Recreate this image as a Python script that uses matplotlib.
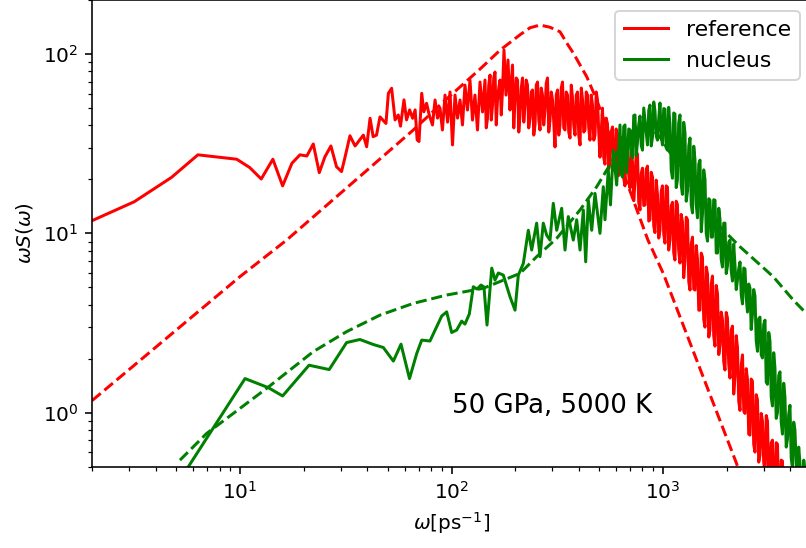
import matplotlib
matplotlib.use('Agg')
import matplotlib.pyplot as plt

# reference (solid, red)
ref_w = [1.58, 3.16, 4.74, 6.32, 9.65, 11.1, 12.6, 14.3, 15.9, 17.6, 19.2, 20.7, 22.2, 23.7,
         25.2, 26.9, 28.6, 30.2, 31.4, 33.1, 35.0, 38.3, 39.7, 41.2, 42.6, 44.2, 45.9, 49.0,
         50.3, 52.1, 54.1, 56.0, 57.4, 59.6, 61.3, 63.4, 65.5, 67.3, 68.8, 70.2, 72.3, 74.0,
         76.2, 78.5,
         81.3, 83.6, 85.9, 88.2, 90.6, 93.2, 95.8, 98.4, 101.1, 103.9, 106.8, 109.7, 112.7,
         115.8, 119.0, 122.3, 125.7, 129.1, 132.7, 136.4, 140.2,
         144.0, 146.0, 148.0, 150.0, 152.1, 154.2, 156.3, 158.4, 160.6, 162.8, 165.0, 167.3,
         169.6, 171.9, 174.3, 177.1, 181.0, 185.0, 189.1, 191.7, 194.3, 197.0, 199.7, 202.4,
         205.2, 208.0, 210.9, 213.8, 216.7, 219.7, 222.6, 225.6, 228.7, 231.8, 235.1, 238.3,
         241.6, 244.9, 248.3, 251.7, 255.2, 258.7, 262.1, 265.7, 269.3, 273.0, 276.8, 280.6,
         284.4, 288.3, 292.3, 296.3, 300.4, 304.5, 308.7, 312.9, 317.2, 321.5, 325.9, 330.4,
         334.9, 339.5, 344.1, 348.8, 353.6, 358.4, 363.4, 368.4, 373.4, 378.5, 383.7, 388.9,
         394.3, 399.7, 405.3, 410.9, 416.5, 422.2, 427.8, 433.7, 439.6, 445.6, 451.7, 457.9,
         464.2, 470.6, 477.1, 483.6, 490.2, 496.9, 503.6,
         517.5, 524.6, 531.8, 539.1, 546.5, 554.0, 561.6, 569.3, 577.1, 585.0, 592.9, 601.0,
         609.3, 617.6, 626.1, 634.7, 643.4, 652.2, 661.1, 670.2, 679.4, 688.7, 698.2, 707.8,
         717.5, 727.3, 737.2, 747.3, 757.5, 767.9, 778.5, 789.2, 800.0, 811.0, 822.1, 833.4,
         844.8, 856.4, 868.0, 879.9, 892.0, 904.2, 916.6, 929.2, 941.9, 954.8, 967.8, 981.1,
         994.5, 1008, 1022, 1036, 1050, 1064, 1079, 1094, 1109, 1124, 1139, 1155, 1170, 1186,
         1203, 1219, 1236, 1253, 1271, 1288, 1306, 1324, 1342, 1360, 1379, 1398, 1417, 1436,
         1456, 1476, 1496, 1517, 1537, 1558, 1580, 1602, 1624, 1646, 1668, 1691, 1714, 1737,
         1762, 1786, 1811, 1836, 1860, 1885, 1911, 1937, 1964, 1991, 2018, 2046, 2074, 2102,
         2131, 2160, 2190, 2220, 2250, 2281, 2313, 2345, 2377, 2410, 2442, 2475, 2509, 2543,
         2578, 2613, 2649, 2685, 2723, 2760, 2798, 2836, 2875, 2914, 2954, 2994, 3036, 3078,
         3120, 3163, 3206, 3250, 3294, 3339, 3385, 3431, 3478, 3526, 3574, 3623, 3673, 3723,
         3774, 3826, 3878, 3985]
ref_s = [10.4, 15.0, 20.5, 27.4, 25.9, 23.3, 20.1, 25.9, 18.4, 24.6, 27.4, 27.0, 31.5, 21.8,
         26.7, 30.7, 23.5, 22.1, 26.7, 35.0, 30.7, 35.3, 30.4, 43.8, 34.6, 35.3, 44.6, 41.0,
         60.4, 64.4, 42.9, 45.7, 39.6, 55.5, 42.9, 48.8, 43.8, 48.8, 33.2, 32.5, 60.4, 47.6,
         53.1, 45.7,
         40.2, 55.4, 43.9, 50.0, 37.7, 59.0, 41.7, 61.4, 31.1, 59.0, 43.9, 55.4, 40.2,
         67.1, 48.7, 71.6, 42.8, 59.0, 37.7, 69.8, 47.5,
         71.6, 38.7, 43.9, 67.1, 76.3, 42.8, 51.9, 73.5, 79.3, 40.2, 55.4, 64.6,
         71.6, 45.7, 63.0, 105.3, 59.0, 92.6, 48.7, 68.8, 86.8, 38.7, 55.4, 73.5,
         71.6, 36.7, 45.7, 64.6, 73.5, 41.7, 51.9, 71.6, 67.1, 38.7, 43.9, 61.4,
         63.0, 35.3, 40.2, 67.1, 69.8, 42.8, 37.7, 64.6, 59.0, 40.2, 48.7, 68.8,
         73.5, 36.7, 42.8, 61.4, 55.4, 41.7, 30.3, 59.0, 63.0, 35.3, 40.2, 64.6,
         69.8, 38.7, 37.7, 61.4, 59.0, 36.7, 34.0, 67.1, 56.8, 40.2, 35.3, 59.0,
         61.4, 35.3, 31.1, 64.6, 55.4, 36.7, 37.7, 61.4, 59.0, 38.7, 33.1, 59.0,
         51.9, 33.1, 35.3, 61.4, 55.4, 36.7, 26.6,
         49.9, 26.4, 24.3, 43.9, 40.7, 22.9, 25.6, 36.7, 39.2, 25.1, 22.2, 38.2,
         31.8, 21.0, 24.0, 29.1, 34.4, 20.3, 18.4, 31.8, 29.9, 21.1, 17.9, 28.4,
         25.0, 15.2, 19.3, 28.7, 27.6, 14.9, 13.5, 21.6, 23.1, 14.3, 14.4, 22.8,
         23.7, 11.7, 11.9, 21.9, 20.6, 11.0, 10.1, 19.8, 16.4, 9.41, 10.4, 17.2,
         18.4, 9.94, 8.82, 18.4, 18.1, 8.07, 9.17, 14.2, 14.9, 7.81, 7.10, 15.1, 14.5, 8.07,
         6.83, 12.75, 11.6, 5.66, 7.10, 12.3, 11.9, 5.38, 4.83, 8.71, 9.53, 4.89, 4.83, 8.55,
         7.19, 3.73, 3.73, 7.76, 7.38, 3.32, 3.00, 6.49, 5.93, 2.64, 2.89, 5.20, 5.78, 2.69,
         2.35, 5.12, 4.59, 2.11, 2.38, 3.64, 3.32, 1.93, 1.73, 3.62, 3.37, 1.86, 1.56, 2.89,
         3.04, 1.27, 1.58, 2.69, 2.32, 1.16, 1.03, 1.85, 2.10, 1.02, 0.991, 1.76, 1.54, 0.76,
         0.750, 1.54, 1.50, 0.668, 0.603, 1.26, 1.18, 0.53, 0.580, 0.99, 0.898, 0.53, 0.461, 0.964,
         0.898, 0.41, 0.449, 0.68, 0.703, 0.37, 0.334, 0.68, 0.668, 0.33, 0.314, 0.544, 0.537, 0.25,
         0.25, 0.30, 0.45, 0.22]

# reference model (dashed, red)
ref_fit_w = [2.0, 10.0, 16.6, 66.0, 91.4, 136.4, 169.6, 210.9, 235, 262.0, 292, 325.9, 351,
             377, 436, 486, 849, 1003, 2228, 2442]
ref_fit_s = [1.17, 5.74, 9.17, 37.7, 54.0, 82.4, 105, 128, 140, 145, 141, 133, 115,
             101, 74.7, 55.4, 9.17, 5.98, 0.521, 0.37]

# nucleus (solid, green)
nuc_w = [4.67, 10.56, 13.6, 15.9, 21.2, 26.4, 31.9, 36.9, 42.7, 47.6, 53.1, 57.7, 63.3, 68.5,
         72.3, 79.1, 89.9, 94.9, 100.2, 105.8, 111.7, 115.8, 121.4, 126.8, 132.0, 137.9, 142.4,
         147.2, 155.0, 160.6, 166.5, 175.8, 189.1, 199.7, 207.0, 218.6, 230.8, 239.4, 252.7,
         262.1, 271.6, 281.8, 292.3, 302.9, 314.4, 331.9, 344.1, 356.6, 376.6, 390.8, 405.3,
         420.1, 431.1, 443.5, 460.2, 477.1, 503.6, 522.1, 531.8, 551.3, 564.6, 582.1, 604.0,
         626.1, 634.7, 643.4, 652.2, 661.1, 670.2, 679.4, 688.7, 698.2, 707.8, 717.5, 727.3,
         737.2, 747.3, 757.5, 767.9, 778.5, 789.2, 800.0, 811.0, 822.1, 833.4, 844.8, 856.4,
         868.0, 879.9, 892.0, 904.2, 916.6, 929.2, 941.9, 954.8, 967.8, 981.1, 994.5, 1008,
         1022, 1036, 1050, 1064, 1079, 1094, 1109, 1124, 1139, 1155, 1170, 1186, 1203, 1219,
         1236, 1253, 1271, 1288, 1306, 1324, 1342, 1360, 1379, 1398, 1417, 1436, 1456, 1476,
         1496, 1517, 1537, 1558, 1580, 1602, 1624, 1646, 1668, 1691, 1714, 1737, 1762, 1786,
         1811, 1836, 1860, 1885, 1911, 1937, 1964, 1991, 2018, 2046, 2074, 2102, 2131, 2160,
         2190, 2220, 2250, 2281, 2313, 2345, 2377, 2410, 2442, 2475, 2509, 2543, 2578, 2613,
         2649, 2685, 2723, 2760, 2798, 2836, 2875, 2914, 2954, 2994, 3036, 3078, 3120, 3163,
         3206, 3250, 3294, 3339, 3385, 3431, 3478, 3526, 3574, 3623, 3673, 3723, 3774, 3826,
         3878, 3930, 3985, 4040, 4095, 4151, 4208, 4266, 4324, 4383, 4444, 4505, 4567, 4630,
         4692]
nuc_s = [0.347, 1.55, 1.38, 1.24, 1.84, 1.74, 2.46, 2.56, 2.40, 2.31, 1.94, 2.41, 1.55, 2.14,
         2.54, 2.51, 3.46, 3.65, 2.80, 2.89, 3.24, 3.12, 3.55, 5.04, 4.89, 5.15, 5.02,
         3.08, 6.40, 5.49, 6.01, 5.85, 4.43, 3.73, 5.85, 6.80, 10.4, 8.07, 11.4,
         7.41, 11.4, 9.78, 9.17, 14.7, 10.4, 13.8, 8.07, 12.4, 9.17, 11.9, 8.07,
         13.5, 6.94, 15.3, 10.4, 16.7, 10.0, 18.2, 11.9, 22.5, 14.4, 29.1, 18.6,
         40.2, 21.5, 20.6, 39.4, 40.2, 21.8, 25.6, 38.2, 37.7, 28.6, 26.3, 45.4,
         45.7, 27.1, 32.3, 40.2, 45.1, 30.9, 29.1, 50.0, 42.8, 36.3, 31.1, 48.4,
         51.9, 30.7, 34.4, 54.0, 48.1, 34.9, 33.1, 43.6, 53.3, 35.3, 31.1, 49.6,
         49.3, 29.9, 29.1, 50.4, 40.7, 22.5, 20.3, 46.9, 46.3, 18.0, 19.8, 41.0, 45.7, 18.7,
         16.5, 41.6, 36.3, 15.1, 17.2, 30.6, 34.0, 14.5, 13.0, 30.6, 25.6, 14.5, 12.2, 24.3,
         25.6, 10.2, 12.8, 22.6, 20.0, 9.97, 9.05, 15.6, 15.3, 9.53, 9.53, 15.4, 15.3, 7.77,
         7.77, 13.8, 12.0, 7.15, 6.49, 11.4, 11.4, 5.97, 6.58, 8.94, 9.17, 6.20, 5.42, 8.71,
         6.66, 4.86, 5.49, 6.33, 6.92, 4.53, 4.04, 6.41, 6.33, 4.39, 3.64, 5.22, 4.96, 2.91,
         3.54, 4.86, 4.47, 2.52, 2.20, 3.34, 3.41, 2.10, 2.02, 3.10, 3.28, 1.48, 1.44, 2.80,
         2.51, 1.22, 1.09, 2.16, 1.77, 0.93, 1.00, 1.61, 1.69, 0.886, 0.760, 1.46, 1.22, 0.643,
         0.712, 0.976, 1.10, 0.558, 0.491, 0.886, 0.800, 0.513, 0.421, 0.643, 0.523, 0.33, 0.405, 0.544,
         0.484]

# nucleus model (dashed, green)
nuc_fit_w = [5.20, 6.96, 13.4, 22.2, 31.9, 45.9, 66.0, 94.9, 141.4, 210.9, 252.7, 314.4,
             405.3, 486, 541.9, 673.4, 753.7, 849, 967.8, 1203, 1496, 1860, 2313, 3323, 4131, 4744]
nuc_fit_s = [0.544, 0.767, 1.37, 2.19, 2.83, 3.50, 4.07, 4.53, 4.94, 5.98, 7.41, 9.38,
             13.5, 18.2, 22.5, 34.6, 39.2, 40.2, 34.4, 23.1, 15.5, 10.9, 8.42, 5.73, 4.25, 3.59]

fig = plt.figure(figsize=(806 / 144, 548 / 144), dpi=144)
ax = fig.add_axes([92.2 / 806, 81.3 / 548, 718.6 / 806, 466.7 / 548])

ax.loglog(ref_w, ref_s, color='red', lw=1.5, label='reference')
ax.loglog(ref_fit_w, ref_fit_s, '--', color='red', lw=1.5)
ax.loglog(nuc_w, nuc_s, color='green', lw=1.5, label='nucleus')
ax.loglog(nuc_fit_w, nuc_fit_s, '--', color='green', lw=1.5)

ax.set_xlim(2, 5000)
ax.set_ylim(0.5, 200)
ax.set_xlabel(r'$\omega$[ps$^{-1}$]')
ax.set_ylabel(r'$\omega S(\omega)$')
ax.text(100, 1, '50 GPa, 5000 K', fontsize=13)
ax.legend(loc='upper right', fontsize=11)

fig.savefig('out.png', dpi=144)
